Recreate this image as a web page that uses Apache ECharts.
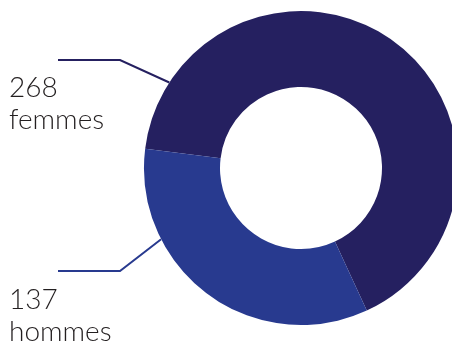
<!DOCTYPE html>
<html>
<head>
<meta charset="utf-8">
<script src="https://cdn.jsdelivr.net/npm/echarts@6/dist/echarts.min.js"></script>
<style>
  html, body { margin: 0; padding: 0; background: #fff; }
  #chart { width: 452px; height: 342px; }
</style>
</head>
<body>
<div id="chart"></div>
<script>
var categories = ['femmes', 'hommes'];
var values = [268, 137];
var colors = ['#252060', '#283a8f'];

var cx = 301, cy = 168, rOut = 157, rIn = 81;
// where each label line touches the ring (degrees, counter-clockwise from 3 o'clock)
var anchorAngles = [147, 207];
var labelPos = [[9, 72], [9, 284]];
var elbowX = 120, lineEndX = 58;

function anchor(i) {
    var a = anchorAngles[i] * Math.PI / 180;
    return [cx + rOut * Math.cos(a), cy - rOut * Math.sin(a)];
}

var chart = echarts.init(document.getElementById('chart'));
var option = {
    animation: false,
    series: [
        {
            type: 'pie',
            center: [cx, cy],
            radius: [rIn, rOut],
            startAngle: 173,
            clockwise: true,
            avoidLabelOverlap: false,
            itemStyle: { borderWidth: 0 },
            label: {
                show: true,
                position: 'outside',
                formatter: '{c}\n{b}',
                fontFamily: 'Lato',
                fontWeight: 300,
                fontSize: 28,
                lineHeight: 32,
                color: '#231f20',
                align: 'left'
            },
            labelLine: {
                show: true,
                length: 10,
                length2: 10,
                lineStyle: { width: 2 }
            },
            labelLayout: function (params) {
                var i = params.dataIndex;
                var p = anchor(i);
                var lineY = i === 0 ? 60 : 271;
                return {
                    x: labelPos[i][0],
                    y: labelPos[i][1],
                    align: 'left',
                    verticalAlign: 'top',
                    labelLinePoints: [p, [elbowX, lineY], [lineEndX, lineY]]
                };
            },
            data: categories.map(function (c, i) {
                return { name: c, value: values[i], itemStyle: { color: colors[i] } };
            })
        }
    ]
};
chart.setOption(option);
window.onresize = chart.resize;
</script>
</body>
</html>
